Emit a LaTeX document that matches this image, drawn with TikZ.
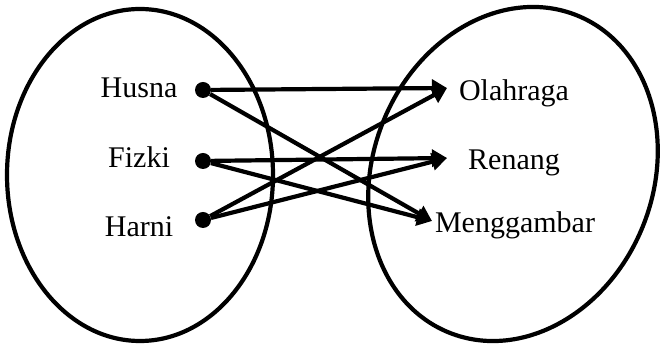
\documentclass[tikz,border=0pt]{standalone}
\usepackage{fontspec}
\setmainfont{Liberation Serif}
\usetikzlibrary{arrows.meta}
\begin{document}
\begin{tikzpicture}[x=1pt,y=1pt,
  set/.style={line width=4.2pt},
  dot/.style={circle,fill=black,inner sep=0pt,minimum size=16pt},
  lbl/.style={font=\fontsize{30}{36}\selectfont,inner sep=0pt,anchor=base},
  link/.style={line width=4.2pt,-{Triangle[length=15pt,width=17pt]}}]
\useasboundingbox (0,0) rectangle (661,344);
% the two sets
\draw[set] (140,169) ellipse[x radius=133,y radius=166];
\draw[set,rotate around={-22:(513,170)}] (513,170) ellipse[x radius=140,y radius=171];
% domain
\node[lbl] (husna-txt) at (139,246) {Husna};
\node[lbl] (fizki-txt) at (139,176) {Fizki};
\node[lbl] (harni-txt) at (139,107) {Harni};
\node[dot] (husna) at (203,254) {};
\node[dot] (fizki) at (203,183) {};
\node[dot] (harni) at (203,124) {};
% codomain
\node[lbl] (olahraga) at (514,243) {Olahraga};
\node[lbl] (renang) at (514,174) {Renang};
\node[lbl] (menggambar) at (515,111) {Menggambar};
\coordinate (olahraga-in) at (447,256);
\coordinate (renang-in) at (447,186);
\coordinate (menggambar-in) at (432,123);
% relation
\draw[link] (husna) -- (olahraga-in);
\draw[link] (husna) -- (menggambar-in);
\draw[link] (fizki) -- (renang-in);
\draw[link] (fizki) -- (menggambar-in);
\draw[link] (harni) -- (olahraga-in);
\draw[link] (harni) -- (renang-in);
\end{tikzpicture}
\end{document}
